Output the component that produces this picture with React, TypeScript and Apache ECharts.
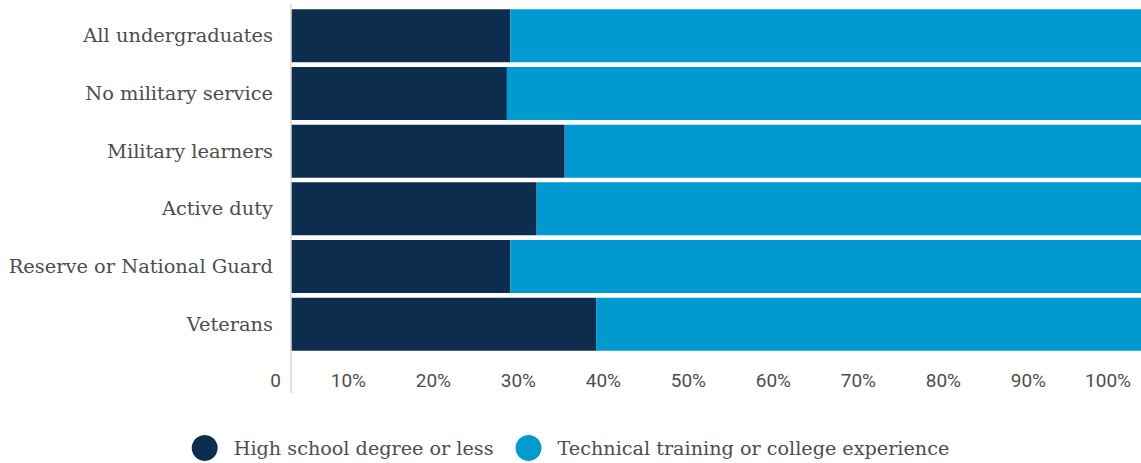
import React, { useEffect, useRef } from "react";
import * as echarts from "echarts";

const categories = [
  "All undergraduates",
  "No military service",
  "Military learners",
  "Active duty",
  "Reserve or National Guard",
  "Veterans",
];
const highSchool = [25.8, 25.4, 32.2, 28.9, 25.8, 35.9];
const technical = [74.2, 74.6, 67.8, 71.1, 74.2, 64.1];
const seriesNames = ["High school degree or less", "Technical training or college experience"];
const tickFormat = (v: number) => (v === 0 ? "0" : v + "%");

export default function App() {
  const ref = useRef<HTMLDivElement>(null);
  useEffect(() => {
    document.body.style.margin = "0";
    const chart = echarts.init(ref.current!, undefined, { renderer: "svg" });
    const textColor = "#4d4d4d";
    chart.setOption({
      animation: false,
      grid: { left: 291, right: 0, top: 7, bottom: 110, containLabel: false },
      xAxis: {
        type: "value",
        min: 0,
        max: 100,
        interval: 10,
        axisLine: { show: false },
        axisTick: { show: false },
        splitLine: { show: false },
        axisLabel: {
          formatter: tickFormat,
          align: "right",
          padding: [0, 10, 0, 0],
          margin: 18,
          color: textColor,
          fontSize: 19,
          fontFamily: "Roboto",
          showMinLabel: true,
          showMaxLabel: true,
        },
      },
      yAxis: {
        type: "category",
        data: categories,
        inverse: true,
        axisLine: { show: false },
        axisTick: { show: false },
        axisLabel: {
          margin: 18,
          color: textColor,
          fontSize: 19.4,
          fontFamily: "DejaVu Serif",
        },
      },
      legend: {
        top: 430,
        left: "center",
        icon: "circle",
        itemWidth: 26,
        itemHeight: 26,
        itemGap: 22,
        textStyle: {
          color: textColor,
          fontSize: 19.2,
          fontFamily: "DejaVu Serif",
          padding: [0, 0, 0, 11],
        },
        data: seriesNames,
      },
      graphic: [
        {
          type: "line",
          shape: { x1: 291, y1: 4, x2: 291, y2: 393 },
          style: { stroke: "#d6d6d6", lineWidth: 1.5 },
          z: 10,
        },
      ],
      series: [
        {
          name: seriesNames[0],
          type: "bar",
          stack: "total",
          data: highSchool,
          barWidth: 53,
          itemStyle: { color: "#0d2d4f" },
        },
        {
          name: seriesNames[1],
          type: "bar",
          stack: "total",
          data: technical,
          barWidth: 53,
          itemStyle: { color: "#0099d0" },
        },
      ],
    });
    return () => chart.dispose();
  }, []);
  return <div ref={ref} style={{ width: 1141, height: 463 }} />;
}
